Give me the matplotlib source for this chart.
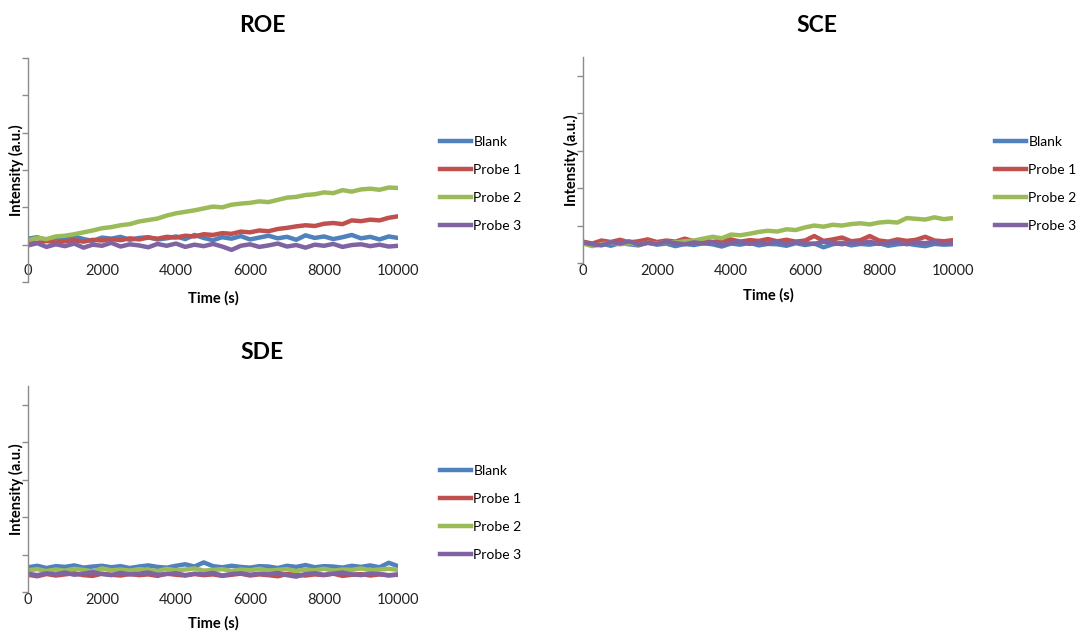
import numpy as np
import matplotlib
matplotlib.use("Agg")
import matplotlib.pyplot as plt

plt.rcParams['font.family'] = ['Lato', 'DejaVu Sans']

# ---------------------------------------------------------
# data (every 250 s)
# ---------------------------------------------------------
time_s = np.arange(0, 10001, 250)
series_names = ["Blank", "Probe 1", "Probe 2", "Probe 3"]
colors = ["#4F81BD", "#C0504D", "#9BBB59", "#8064A2"]

roe_blank = [0.16, 0.20, 0.12, 0.18, 0.14, 0.22, 0.15, 0.10, 0.19, 0.16, 0.21, 0.13, 0.18, 0.20,
             0.14, 0.17, 0.22, 0.15, 0.26, 0.18, 0.12, 0.20, 0.16, 0.23, 0.14, 0.19, 0.24, 0.17,
             0.21, 0.13, 0.25, 0.18, 0.22, 0.15, 0.20, 0.26, 0.17, 0.21, 0.14, 0.22, 0.18]
roe_probe1 = [0.08, 0.05, 0.10, 0.06, 0.09, 0.12, 0.08, 0.13, 0.11, 0.15, 0.12, 0.17, 0.14, 0.19,
              0.16, 0.21, 0.19, 0.24, 0.22, 0.28, 0.26, 0.31, 0.29, 0.35, 0.33, 0.38, 0.36, 0.42,
              0.45, 0.49, 0.52, 0.50, 0.56, 0.58, 0.55, 0.65, 0.63, 0.67, 0.65, 0.72, 0.76]
roe_probe2 = [0.12, 0.18, 0.15, 0.22, 0.24, 0.28, 0.33, 0.38, 0.44, 0.47, 0.52, 0.55, 0.62, 0.66,
              0.70, 0.78, 0.84, 0.88, 0.92, 0.97, 1.02, 1.00, 1.07, 1.10, 1.12, 1.16, 1.14, 1.20,
              1.26, 1.28, 1.33, 1.35, 1.40, 1.38, 1.46, 1.42, 1.48, 1.50, 1.47, 1.53, 1.52]
roe_probe3 = [-0.02, 0.04, -0.06, 0.01, -0.04, 0.03, -0.08, 0.00, -0.03, 0.05, -0.05, 0.01, -0.02,
              -0.07, 0.02, -0.03, 0.03, -0.06, 0.00, -0.04, 0.02, -0.05, -0.14, -0.03, 0.01, -0.06,
              -0.02, 0.03, -0.05, -0.01, -0.08, 0.00, -0.03, 0.02, -0.06, -0.01, 0.01, -0.04, 0.00,
              -0.05, -0.03]

sce_blank = [0.55, 0.48, 0.52, 0.46, 0.53, 0.50, 0.47, 0.54, 0.49, 0.52, 0.45, 0.51, 0.48, 0.53,
             0.50, 0.44, 0.52, 0.49, 0.54, 0.47, 0.51, 0.50, 0.46, 0.53, 0.48, 0.52, 0.42, 0.50,
             0.54, 0.47, 0.51, 0.49, 0.53, 0.46, 0.50, 0.52, 0.48, 0.45, 0.51, 0.49, 0.50]
sce_probe1 = [0.57, 0.52, 0.60, 0.56, 0.62, 0.55, 0.58, 0.63, 0.56, 0.60, 0.57, 0.65, 0.58, 0.61,
              0.56, 0.60, 0.63, 0.57, 0.61, 0.59, 0.64, 0.58, 0.62, 0.57, 0.60, 0.72, 0.59, 0.63,
              0.68, 0.58, 0.61, 0.72, 0.60, 0.57, 0.63, 0.59, 0.62, 0.70, 0.60, 0.58, 0.61]
sce_probe2 = [0.52, 0.45, 0.50, 0.55, 0.50, 0.53, 0.49, 0.54, 0.52, 0.56, 0.55, 0.58, 0.60, 0.65,
              0.70, 0.66, 0.76, 0.74, 0.78, 0.83, 0.86, 0.84, 0.90, 0.88, 0.95, 1.00, 0.97, 1.02,
              1.00, 1.04, 1.06, 1.03, 1.08, 1.10, 1.08, 1.20, 1.18, 1.16, 1.22, 1.17, 1.20]
sce_probe3 = [0.55, 0.50, 0.47, 0.56, 0.52, 0.58, 0.49, 0.54, 0.51, 0.57, 0.53, 0.50, 0.55, 0.52,
              0.56, 0.49, 0.54, 0.57, 0.51, 0.55, 0.52, 0.58, 0.50, 0.56, 0.53, 0.51, 0.57, 0.54,
              0.50, 0.55, 0.53, 0.57, 0.51, 0.54, 0.56, 0.50, 0.55, 0.53, 0.57, 0.51, 0.54]

sde_blank = [0.66, 0.70, 0.64, 0.69, 0.67, 0.71, 0.65, 0.68, 0.70, 0.66, 0.69, 0.64, 0.68, 0.71,
             0.67, 0.65, 0.70, 0.74, 0.68, 0.79, 0.69, 0.66, 0.70, 0.67, 0.65, 0.69, 0.68, 0.64,
             0.70, 0.67, 0.72, 0.66, 0.69, 0.68, 0.65, 0.70, 0.67, 0.71, 0.66, 0.78, 0.69]
sde_probe1 = [0.46, 0.42, 0.48, 0.44, 0.47, 0.50, 0.45, 0.43, 0.49, 0.46, 0.44, 0.48, 0.45, 0.47,
              0.43, 0.49, 0.46, 0.44, 0.48, 0.45, 0.47, 0.43, 0.46, 0.49, 0.44, 0.47, 0.45, 0.42,
              0.48, 0.46, 0.44, 0.47, 0.45, 0.49, 0.43, 0.46, 0.48, 0.44, 0.47, 0.45, 0.46]
sde_probe2 = [0.58, 0.61, 0.56, 0.60, 0.57, 0.62, 0.59, 0.55, 0.63, 0.58, 0.60, 0.57, 0.61, 0.59,
              0.56, 0.62, 0.58, 0.60, 0.63, 0.57, 0.59, 0.61, 0.56, 0.60, 0.58, 0.62, 0.57, 0.59,
              0.61, 0.56, 0.60, 0.58, 0.62, 0.57, 0.60, 0.59, 0.63, 0.58, 0.60, 0.62, 0.59]
sde_probe3 = [0.49, 0.45, 0.50, 0.47, 0.52, 0.46, 0.49, 0.53, 0.48, 0.45, 0.51, 0.47, 0.49, 0.52,
              0.46, 0.48, 0.50, 0.45, 0.49, 0.47, 0.51, 0.44, 0.48, 0.50, 0.46, 0.49, 0.47, 0.51,
              0.45, 0.41, 0.48, 0.50, 0.46, 0.49, 0.52, 0.47, 0.45, 0.49, 0.48, 0.44, 0.47]

# ---------------------------------------------------------
# layout (pixels of the 1077x633 picture)
# ---------------------------------------------------------
W, H = 1077, 633
fig = plt.figure(figsize=(W / 100, H / 100), dpi=100)


def px_rect(left, top, right, bottom):
    return [left / W, 1 - bottom / H, (right - left) / W, (bottom - top) / H]


panels = [
    # title, data, axes rect, ylim, title pos, legend pos, x-axis crossing, xlabel y
    ("ROE", [roe_blank, roe_probe1, roe_probe2, roe_probe3],
     px_rect(28, 58, 398, 282), (-1, 5), (262, 25), (440, 136), 0.0, 298),
    ("SCE", [sce_blank, sce_probe1, sce_probe2, sce_probe3],
     px_rect(583, 57, 953, 263), (0, 5.5), (817, 25), (995, 136), None, 295),
    ("SDE", [sde_blank, sde_probe1, sde_probe2, sde_probe3],
     px_rect(28, 386, 398, 592), (0, 5.5), (262, 353), (440, 465), None, 623),
]

axis_grey = "#8C8C8C"

for title, data, rect, ylim, tpos, lpos, cross, xlab_y in panels:
    ax = fig.add_axes(rect)
    for name, col, vals in zip(series_names, colors, data):
        ax.plot(time_s, vals, color=col, lw=3.2, label=name, solid_joinstyle="round")

    ax.set_xlim(0, 10000)
    ax.set_ylim(*ylim)
    ax.set_xticks([0, 2000, 4000, 6000, 8000, 10000])
    ax.set_yticks(np.arange(np.ceil(ylim[0]), np.floor(ylim[1]) + 1))
    ax.set_yticklabels([])

    for s in ["top", "right"]:
        ax.spines[s].set_visible(False)
    ax.spines["bottom"].set_color("none")
    ax.spines["left"].set_color(axis_grey)
    ax.spines["left"].set_linewidth(1.0)
    if cross is not None:
        ax.spines["bottom"].set_position(("data", cross))
        ax.tick_params(axis="x", length=0, pad=14)
    else:
        ax.tick_params(axis="x", length=0, pad=0.5)
    ax.tick_params(axis="x", labelsize=10.5, labelcolor="#222222")
    ax.tick_params(axis="y", direction="out", length=4, width=1, color=axis_grey)

    ax.set_ylabel("Intensity (a.u.)", fontsize=10.5, fontweight="bold")
    ax.yaxis.set_label_coords(-0.012, 0.5)
    ax.set_xlabel("Time (s)", fontsize=10.5, fontweight="bold", va="center")
    pos = ax.get_position()
    ax.xaxis.set_label_coords(0.5, (1 - xlab_y / H - pos.y0) / pos.height)

    fig.text(tpos[0] / W, 1 - tpos[1] / H, title, ha="center", va="center",
             fontsize=16.5, fontweight="bold")

    ax.legend(loc="upper left", bbox_to_anchor=(lpos[0] / W, 1 - lpos[1] / H),
              bbox_transform=fig.transFigure, frameon=False, fontsize=10,
              handlelength=2.2, handletextpad=0.2, labelspacing=1.15,
              borderpad=0, borderaxespad=0)

fig.savefig("out.png", dpi=100)
